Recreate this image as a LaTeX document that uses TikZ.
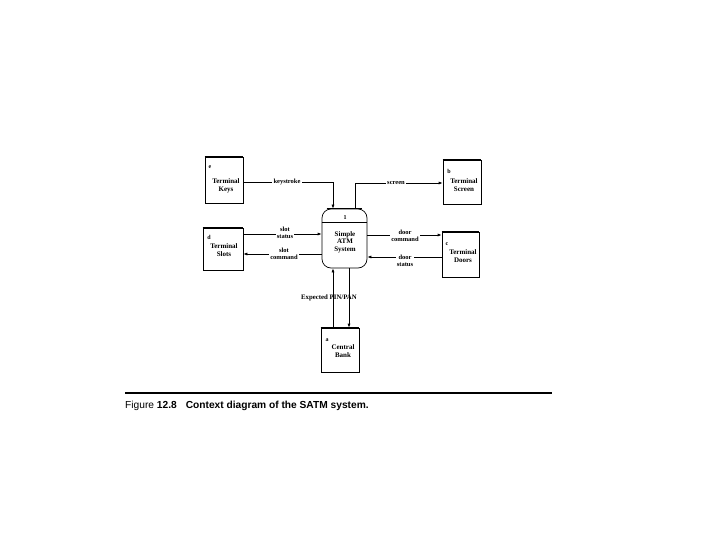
\documentclass[tikz,border=0pt]{standalone}
\usepackage{fontspec}
\setmainfont{Liberation Serif}
\newfontfamily\capfont{Liberation Sans}
\usetikzlibrary{arrows.meta}
\begin{document}
\begin{tikzpicture}[x=1pt,y=-1pt,
  ext/.style={draw,line width=0.7pt,inner sep=0pt},
  lbl/.style={font=\fontsize{7}{7.5}\selectfont\bfseries,align=center,inner sep=0pt},
  tag/.style={font=\fontsize{6}{6}\selectfont\bfseries,inner sep=0pt},
  flow/.style={draw,line width=0.7pt,-{Latex[length=4pt,width=3pt]}},
  gap/.style={fill=white,inner sep=1.2pt,font=\fontsize{6.5}{7}\selectfont\bfseries,align=center}]
\useasboundingbox (0,0) rectangle (720,540);
% external entities
\node[ext,minimum width=38,minimum height=46] (keys) at (224,180) {};
\node[ext,minimum width=40,minimum height=42] (slots) at (223,249) {};
\node[ext,minimum width=38,minimum height=44] (screen) at (462,182) {};
\node[ext,minimum width=37,minimum height=45] (doors) at (460.5,254.5) {};
\node[ext,minimum width=38,minimum height=44] (bank) at (340,350) {};
\foreach \b in {keys,slots,screen,doors,bank}{
  \draw[line width=1.6pt] (\b.north west) -- (\b.north east);
}
\node[tag] (te) at (210,167) {e};
\node[lbl] (tkeys) at (226,186) {Terminal\\Keys};
\node[tag] (td) at (209,237) {d};
\node[lbl] (tslots) at (224,250) {Terminal\\Slots};
\node[tag] (tb) at (449,171) {b};
\node[lbl] (tscreen) at (464,185) {Terminal\\Screen};
\node[tag] (tc) at (447,244) {c};
\node[lbl] (tdoors) at (463,256) {Terminal\\Doors};
\node[tag] (ta) at (327,340) {a};
\node[lbl] (tbank) at (343,351) {Central\\Bank};
% process
\node[draw,line width=0.7pt,rounded corners=9pt,minimum width=45,minimum height=59,inner sep=0pt] (proc) at (344.5,238.5) {};
\draw[line width=1.2pt] ([xshift=5pt]proc.north west) -- ([xshift=-5pt]proc.north east);
\draw[line width=0.7pt] (proc.west |- 0,222) -- (proc.east |- 0,222);
\node[tag] (pnum) at (345,218) {1};
\node[lbl] (ptext) at (345,242) {Simple\\ATM\\System};
% flows
\coordinate (kc) at (333,182);
\draw[flow] (keys.east |- 0,182) -- (kc) -- (kc |- proc.north);
\node[gap] (lkey) at (287,182) {keystroke};
\coordinate (sc) at (355,183);
\draw[flow] (sc |- proc.north) -- (sc) -- (screen.west |- sc);
\node[gap] (lscreen) at (396,183) {screen};
\draw[flow] (slots.east |- 0,234) -- (proc.west |- 0,234);
\node[gap] (lss) at (285,233) {slot\\status};
\draw[flow] (proc.west |- 0,254) -- (slots.east |- 0,254);
\node[gap] (lsc) at (284,254) {slot\\command};
\draw[flow] (proc.east |- 0,235) -- (doors.west |- 0,235);
\node[gap] (ldc) at (405,236) {door\\command};
\draw[flow] (doors.west |- 0,257) -- (proc.east |- 0,257);
\node[gap] (lds) at (405,261) {door\\status};
\draw[flow] (bank.north -| 333,0) -- (proc.south -| 333,0);
\draw[flow] (proc.south -| 349,0) -- (bank.north -| 349,0);
\node[inner sep=0pt,font=\fontsize{6.8}{7}\selectfont\bfseries] (lpin) at (329,298) {Expected PIN/PAN};
% caption
\draw[line width=1.6pt] (125,393) -- (552,393);
\node[anchor=west,inner sep=0pt,font=\capfont\fontsize{10.2}{12}\selectfont] (cap) at (125,406) {Figure \textbf{12.8}\hspace{9pt}\textbf{Context diagram of the SATM system.}};
\end{tikzpicture}
\end{document}
